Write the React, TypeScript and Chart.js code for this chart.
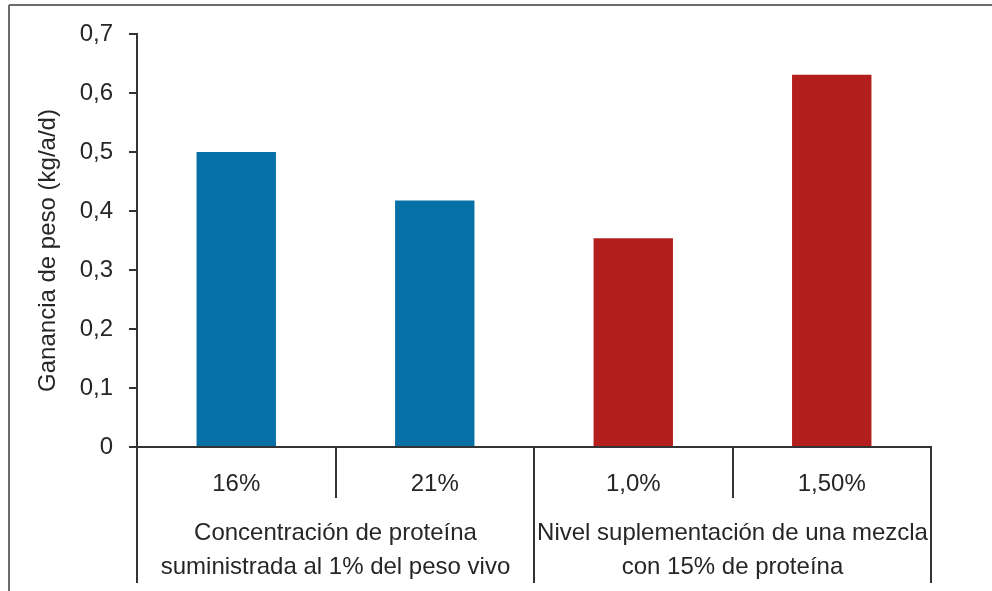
import React, { useEffect, useRef } from "react";
import { Chart, registerables } from "chart.js";

Chart.register(...registerables);

const categories = ["16%", "21%", "1,0%", "1,50%"];
const values = [0.5, 0.418, 0.354, 0.631];
const barColors = ["#0670A7", "#0670A7", "#B21F1C", "#B21F1C"];
const groupLabels = [
  ["Concentración de proteína", "suministrada al 1% del peso vivo"],
  ["Nivel suplementación de una mezcla", "con 15% de proteína"],
];
const groupSizes = [2, 2];
const yMin = 0;
const yMax = 0.7;
const yStep = 0.1;
const yTitle = "Ganancia de peso (kg/a/d)";

const FONT = "'Liberation Sans', Arial, sans-serif";
const FS = 24;
const TEXT = "#262626";
const AXIS = "#333333";

const groupPlugin = {
  id: "groupPlugin",
  afterDraw(chart: any) {
    const ctx = chart.ctx;
    const xs = chart.scales.x;
    const ys = chart.scales.y;
    ctx.save();
    // outer frame (top and left visible)
    ctx.strokeStyle = "#6b6b6b";
    ctx.lineWidth = 2;
    ctx.beginPath();
    ctx.moveTo(9, 5);
    ctx.lineTo(992, 5);
    ctx.moveTo(9, 5);
    ctx.lineTo(9, 591);
    ctx.stroke();

    const n = categories.length;
    const bounds: number[] = [];
    for (let i = 0; i <= n; i++) {
      if (i === 0) bounds.push(xs.left);
      else if (i === n) bounds.push(xs.right);
      else bounds.push((xs.getPixelForValue(i - 1) + xs.getPixelForValue(i)) / 2);
    }
    const groupEdges = new Set<number>();
    let acc = 0;
    groupEdges.add(0);
    groupSizes.forEach((s) => {
      acc += s;
      groupEdges.add(acc);
    });
    const y0 = xs.top;
    ctx.strokeStyle = AXIS;
    ctx.lineWidth = 2;
    bounds.forEach((bx, i) => {
      const x = Math.round(bx);
      ctx.beginPath();
      ctx.moveTo(x, y0);
      ctx.lineTo(x, groupEdges.has(i) ? y0 + 136 : y0 + 51);
      ctx.stroke();
    });

    ctx.fillStyle = TEXT;
    ctx.font = `${FS}px ${FONT}`;
    ctx.textAlign = "center";
    ctx.textBaseline = "middle";
    let start = 0;
    groupSizes.forEach((s, g) => {
      const cx = (bounds[start] + bounds[start + s]) / 2;
      groupLabels[g].forEach((line, li) => {
        ctx.fillText(line, cx, y0 + 86 + li * 34);
      });
      start += s;
    });

    // y-axis title
    const ty = (ys.top + ys.bottom) / 2 + 10;
    ctx.translate(48, ty);
    ctx.rotate(-Math.PI / 2);
    ctx.fillText(yTitle, 0, 0);
    ctx.restore();
  },
};

export default function App() {
  const ref = useRef<HTMLCanvasElement>(null);
  useEffect(() => {
    if (!ref.current) return;
    const chart = new Chart(ref.current, {
      type: "bar",
      data: {
        labels: categories,
        datasets: [
          {
            data: values,
            backgroundColor: barColors,
            barPercentage: 0.4,
            categoryPercentage: 1,
          },
        ],
      },
      options: {
        animation: false,
        responsive: false,
        maintainAspectRatio: false,
        devicePixelRatio: 1,
        layout: { padding: { left: 0, top: 34, right: 61, bottom: 0 } },
        plugins: { legend: { display: false }, tooltip: { enabled: false } },
        scales: {
          x: {
            type: "category",
            offset: true,
            grid: { display: false, drawTicks: false },
            border: { display: true, color: AXIS, width: 2 },
            ticks: {
              font: { family: FONT, size: FS },
              color: TEXT,
              padding: 23,
              maxRotation: 0,
              autoSkip: false,
            },
            afterFit: (s: any) => {
              s.height = 144;
            },
          },
          y: {
            min: yMin,
            max: yMax,
            ticks: {
              stepSize: yStep,
              font: { family: FONT, size: FS },
              color: TEXT,
              padding: 16,
              callback: (v: any) => {
                const num = Number(v);
                if (num === 0) return "0";
                return num.toFixed(1).replace(".", ",");
              },
            },
            grid: {
              drawOnChartArea: false,
              drawTicks: true,
              tickLength: 8,
              color: AXIS,
              lineWidth: 2,
            },
            border: { display: true, color: AXIS, width: 2 },
            title: { display: false },
            afterFit: (s: any) => {
              s.width = 137;
            },
          },
        },
      },
      plugins: [groupPlugin],
    });
    return () => chart.destroy();
  }, []);
  return (
    <div style={{ position: "fixed", left: 0, top: 0, width: 992, height: 591, background: "#fff" }}>
      <canvas ref={ref} width={992} height={591} style={{ display: "block" }} />
    </div>
  );
}
